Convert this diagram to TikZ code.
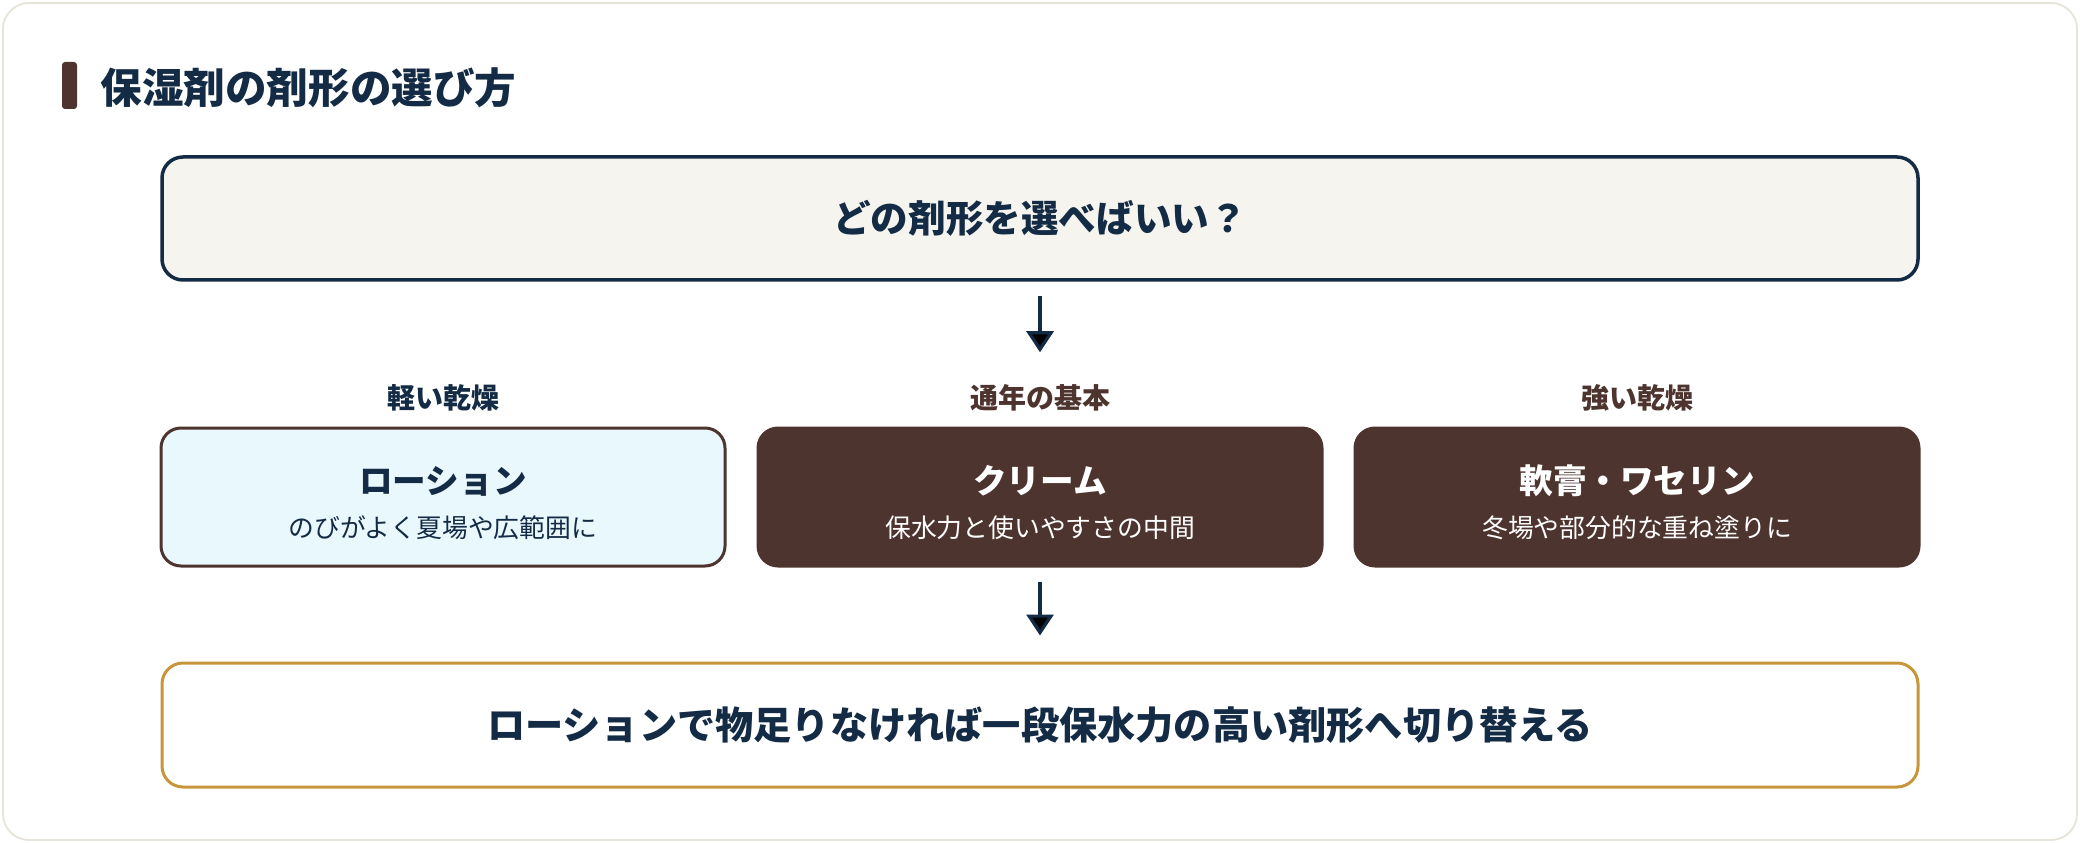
\documentclass[tikz,border=0pt]{standalone}
\usepackage{fontspec}
\setmainfont{Noto Sans CJK JP}
\usepackage{tikz}
\usetikzlibrary{arrows.meta, positioning}
\usepackage{xcolor}
\definecolor{navy}{HTML}{132B44}
\definecolor{cocoa}{HTML}{4E342E}
\definecolor{skyfill}{HTML}{E9F8FD}
\definecolor{paper}{HTML}{F5F4EF}
\definecolor{gold}{HTML}{C8963A}
\definecolor{cardline}{HTML}{E6E3D8}
\newcommand\kind[2]{{\fontsize{16.8}{22}\selectfont\bfseries\rule{0pt}{20pt}#1}\\#2}

\begin{document}
\begin{tikzpicture}[x=1pt,y=1pt,node distance=298.5pt,on grid,auto]
    \tikzstyle{card}=[draw=cardline,line width=0.9pt,fill=white,rounded corners=13pt]
    \tikzstyle{titlebar}=[shape=rectangle,fill=cocoa,rounded corners=1.5pt,minimum width=7.5pt,minimum height=23.5pt,inner sep=0pt]
    \tikzstyle{question}=[shape=rectangle,draw=navy,fill=paper,line width=1.75pt,rounded corners=10.5pt,minimum width=878pt,minimum height=61.5pt,text=navy,font=\fontsize{18.8}{22}\selectfont\bfseries]
    \tikzstyle{choice}=[shape=rectangle,line width=1.5pt,rounded corners=10pt,minimum width=282pt,minimum height=69pt,align=center,font=\fontsize{12.9}{22}\selectfont]
    \tikzstyle{light}=[choice,draw=cocoa,fill=skyfill,text=navy]
    \tikzstyle{dark}=[choice,draw=cocoa,fill=cocoa,text=white]
    \tikzstyle{tag}=[inner sep=0pt,font=\fontsize{14}{16}\selectfont\bfseries]
    \tikzstyle{advice}=[shape=rectangle,draw=gold,fill=white,line width=1.5pt,rounded corners=10.5pt,minimum width=878pt,minimum height=62pt,text=navy,font=\fontsize{19.1}{22}\selectfont\bfseries]
    \tikzstyle{arr}=[draw=navy,line width=1.6pt,-{Triangle[length=10.5pt,width=13.5pt]}]

    \useasboundingbox (0,0) rectangle (1040,421);
    \draw[card] (1.5,1) rectangle (1038.5,419.5);

    \node[titlebar] (bar) at (34.75,378.25) {};
    \node[anchor=west, inner sep=0pt, text=navy, font=\fontsize{20.8}{24}\selectfont\bfseries] (title) at (50,377) {保湿剤の剤形の選び方};

    \node[question] (Q) at (520,311.75) {どの剤形を選べばいい？};
    \node[dark, below=139.25pt of Q] (C) {\kind{クリーム}{保水力と使いやすさの中間}};
    \node[light, left of=C] (L) {\kind{ローション}{のびがよく夏場や広範囲に}};
    \node[dark, right of=C] (O) {\kind{軟膏・ワセリン}{冬場や部分的な重ね塗りに}};
    \node[tag, text=navy, above=49.5pt of L] (tL) {軽い乾燥};
    \node[tag, text=cocoa, above=49.5pt of C] (tC) {通年の基本};
    \node[tag, text=cocoa, above=49.5pt of O] (tO) {強い乾燥};
    \node[advice, below=114pt of C] (F) {ローションで物足りなければ一段保水力の高い剤形へ切り替える};

    \path[arr]
    (Q) edge[shorten <=7pt, shorten >=16pt] (tC)
    (C) edge[shorten <=7pt, shorten >=13pt] (F)
    ;
\end{tikzpicture}
\end{document}
